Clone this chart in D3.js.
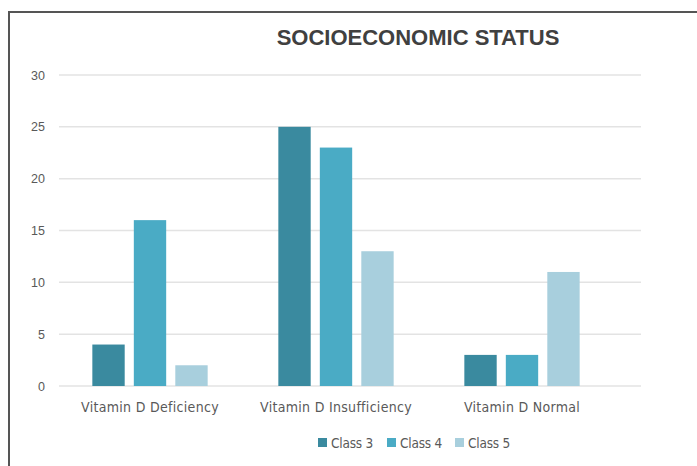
<!DOCTYPE html>
<html>
<head>
<meta charset="utf-8">
<script src="https://cdn.jsdelivr.net/npm/d3@7"></script>
<style>
  body { margin: 0; background: #fff; }
  svg { display: block; }
</style>
</head>
<body>
<svg id="chart" width="697" height="466"></svg>
<script>
// Vitamin D status counts by socioeconomic class
const categories = ["Vitamin D Deficiency", "Vitamin D Insufficiency", "Vitamin D Normal"];
const seriesNames = ["Class 3", "Class 4", "Class 5"];
const class3 = [4, 25, 3];
const class4 = [16, 23, 3];
const class5 = [2, 13, 11];
const yTicks = [0, 5, 10, 15, 20, 25, 30];
const colors = ["#3a8a9f", "#4aabc5", "#a8cfdd"];

const seriesValues = [class3, class4, class5];

const svg = d3.select("#chart");
const W = 697, H = 466;

svg.append("rect").attr("width", W).attr("height", H).attr("fill", "#fff");

// outer frame
svg.append("path")
  .attr("d", `M9,${H + 5} V12 H${W + 5}`)
  .attr("fill", "none")
  .attr("stroke", "#555")
  .attr("stroke-width", 2);

const gridLeft = 59, gridRight = 641;
const y = d3.scaleLinear().domain([0, 30]).range([386, 75]);
const x0 = d3.scaleBand().domain(categories).range([57, 615]).paddingInner(0.38).paddingOuter(0.19);
const x1 = d3.scaleBand().domain(seriesNames).range([0, x0.bandwidth()]).paddingInner(0.22);

// horizontal gridlines
svg.append("g").selectAll("line").data(yTicks).join("line")
  .attr("x1", gridLeft).attr("x2", gridRight)
  .attr("y1", d => y(d)).attr("y2", d => y(d))
  .attr("stroke", "#e3e3e3").attr("stroke-width", 1.5);

// y axis labels
const yAxis = d3.axisLeft(y).tickValues(yTicks).tickSize(0).tickPadding(0);
const gy = svg.append("g").attr("transform", "translate(45,0)").call(yAxis);
gy.select(".domain").remove();
gy.selectAll("text")
  .attr("fill", "#595959")
  .style("font-family", "'Liberation Sans', Arial, sans-serif")
  .style("font-size", "12.5px");

// bars
const groups = svg.append("g").selectAll("g").data(categories).join("g")
  .attr("transform", c => `translate(${x0(c)},0)`);
groups.selectAll("rect")
  .data((c, i) => seriesNames.map((s, j) => ({ s, j, v: seriesValues[j][i] })))
  .join("rect")
  .attr("x", d => x1(d.s))
  .attr("width", x1.bandwidth())
  .attr("y", d => y(d.v))
  .attr("height", d => y(0) - y(d.v))
  .attr("fill", d => colors[d.j]);

// category labels
const xAxis = d3.axisBottom(x0).tickSize(0).tickPadding(0);
const gx = svg.append("g").attr("transform", "translate(0,402)").call(xAxis);
gx.select(".domain").remove();
gx.selectAll("text")
  .attr("fill", "#595959")
  .style("font-family", "'DejaVu Sans Condensed', 'DejaVu Sans', sans-serif")
  .style("font-size", "14px")
  .style("font-stretch", "condensed")
  .style("letter-spacing", "0.3px");

// title
svg.append("text")
  .attr("x", 418).attr("y", 45)
  .attr("text-anchor", "middle")
  .attr("fill", "#404040")
  .style("font-family", "'Liberation Sans', Arial, sans-serif")
  .style("font-weight", "bold")
  .style("font-size", "22px")
  .text("SOCIOECONOMIC STATUS");

// legend
const legendX = [318, 387, 455];
const legend = svg.append("g").selectAll("g").data(seriesNames).join("g")
  .attr("transform", (d, i) => `translate(${legendX[i]},438)`);
legend.append("rect").attr("width", 9).attr("height", 9).attr("fill", (d, i) => colors[i]);
legend.append("text")
  .attr("x", 13).attr("y", 10)
  .attr("fill", "#595959")
  .style("font-family", "'DejaVu Sans Condensed', 'DejaVu Sans', sans-serif")
  .style("font-size", "13.5px")
  .style("font-stretch", "condensed")
  .style("letter-spacing", "-0.2px")
  .text(d => d);
</script>
</body>
</html>
